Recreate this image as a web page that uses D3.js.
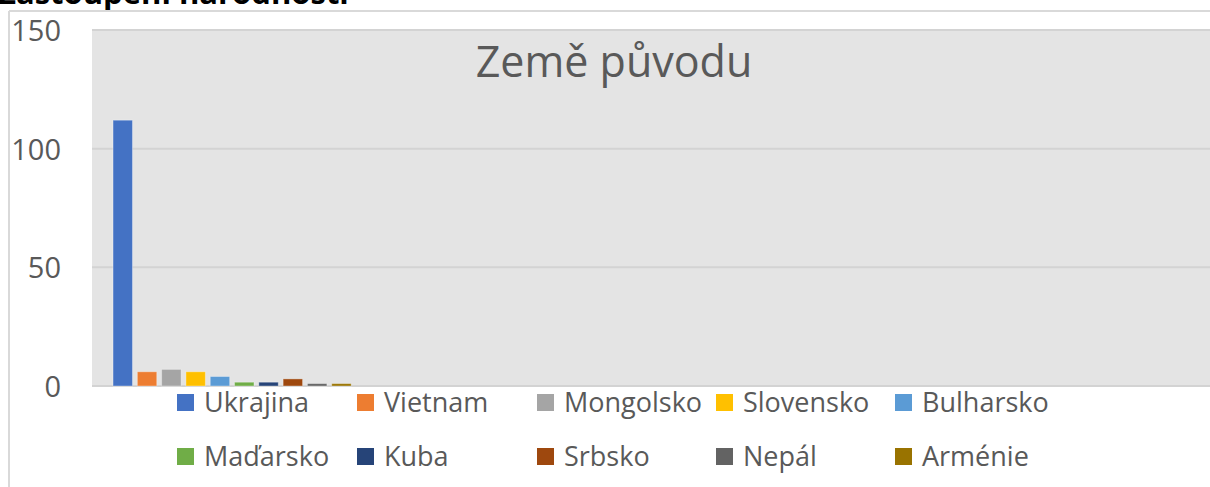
<!DOCTYPE html>
<html>
<head>
<meta charset="utf-8">
<script src="https://cdn.jsdelivr.net/npm/d3@7"></script>
<style>
  body { margin: 0; background: #fff; }
  svg { display: block; font-family: "Open Sans", sans-serif; }
</style>
</head>
<body>
<script>
// data
var series = ["Ukrajina", "Vietnam", "Mongolsko", "Slovensko", "Bulharsko",
              "Maďarsko", "Kuba", "Srbsko", "Nepál", "Arménie"];
var values = [112, 6, 7, 6, 4, 1.6, 1.6, 3, 1, 1];
var colors = ["#4472C4", "#ED7D31", "#A5A5A5", "#FFC000", "#5B9BD5",
              "#70AD47", "#264478", "#9E480E", "#636363", "#997300"];
var yTicks = [0, 50, 100, 150];
var chartTitle = "Země původu";
var pageHeading = "Zastoupení národností";

var width = 1210, height = 487;
var plot = { left: 92, right: 1212, top: 30, bottom: 386 };

var svg = d3.select("body").append("svg")
    .attr("width", width).attr("height", height);

// heading, cut off at the top edge like the screenshot
svg.append("text")
    .attr("x", -2).attr("y", 4)
    .attr("font-size", 31).attr("font-weight", "bold")
    .attr("fill", "#000")
    .text(pageHeading);

// chart frame
svg.append("line").attr("x1", 9).attr("x2", width).attr("y1", 11).attr("y2", 11)
    .attr("stroke", "#d9d9d9").attr("stroke-width", 2);
svg.append("line").attr("x1", 9).attr("x2", 9).attr("y1", 11).attr("y2", height)
    .attr("stroke", "#d9d9d9").attr("stroke-width", 2);

// plot background
svg.append("rect")
    .attr("x", plot.left).attr("y", plot.top)
    .attr("width", plot.right - plot.left).attr("height", plot.bottom - plot.top)
    .attr("fill", "#e4e4e4");

var y = d3.scaleLinear().domain([0, 150]).range([plot.bottom, plot.top]);
var x = d3.scaleBand().domain(series).range([110.6, 353.6])
    .paddingInner(0.2).paddingOuter(0.1);

// gridlines
svg.append("g").selectAll("line").data(yTicks).enter().append("line")
    .attr("x1", plot.left).attr("x2", plot.right)
    .attr("y1", function (d) { return y(d); })
    .attr("y2", function (d) { return y(d); })
    .attr("stroke", "#d3d3d3").attr("stroke-width", 2);

// y axis labels
var yAxis = d3.axisLeft(y).tickValues(yTicks).tickSize(0).tickPadding(0);
var gy = svg.append("g").attr("transform", "translate(61,0)").call(yAxis);
gy.select(".domain").remove();
gy.selectAll("text")
    .attr("font-size", 29).attr("font-family", "Open Sans, sans-serif")
    .attr("fill", "#595959").attr("dy", "0.36em");

// title
svg.append("text")
    .attr("x", 614).attr("y", 77)
    .attr("text-anchor", "middle")
    .attr("font-size", 43).attr("fill", "#595959")
    .text(chartTitle);

// bars
svg.append("g").selectAll("rect").data(series).enter().append("rect")
    .attr("x", function (d) { return x(d); })
    .attr("y", function (d, i) { return y(values[i]); })
    .attr("width", x.bandwidth())
    .attr("height", function (d, i) { return y(0) - y(values[i]); })
    .attr("fill", function (d, i) { return colors[i]; })
    .attr("stroke", "#ffffff").attr("stroke-opacity", 0.35).attr("stroke-width", 1);

// legend, 2 rows of 5
var legendCols = [177, 357, 537, 716, 895];
var legendRows = [403, 457];
var leg = svg.append("g").selectAll("g").data(series).enter().append("g")
    .attr("transform", function (d, i) {
        return "translate(" + legendCols[i % 5] + "," + legendRows[Math.floor(i / 5)] + ")";
    });
leg.append("rect")
    .attr("x", 0).attr("y", -9).attr("width", 17).attr("height", 17)
    .attr("fill", function (d, i) { return colors[i]; });
leg.append("text")
    .attr("x", 27).attr("y", 0).attr("dy", "0.35em")
    .attr("font-size", 27).attr("fill", "#595959")
    .text(function (d) { return d; });
</script>
</body>
</html>
